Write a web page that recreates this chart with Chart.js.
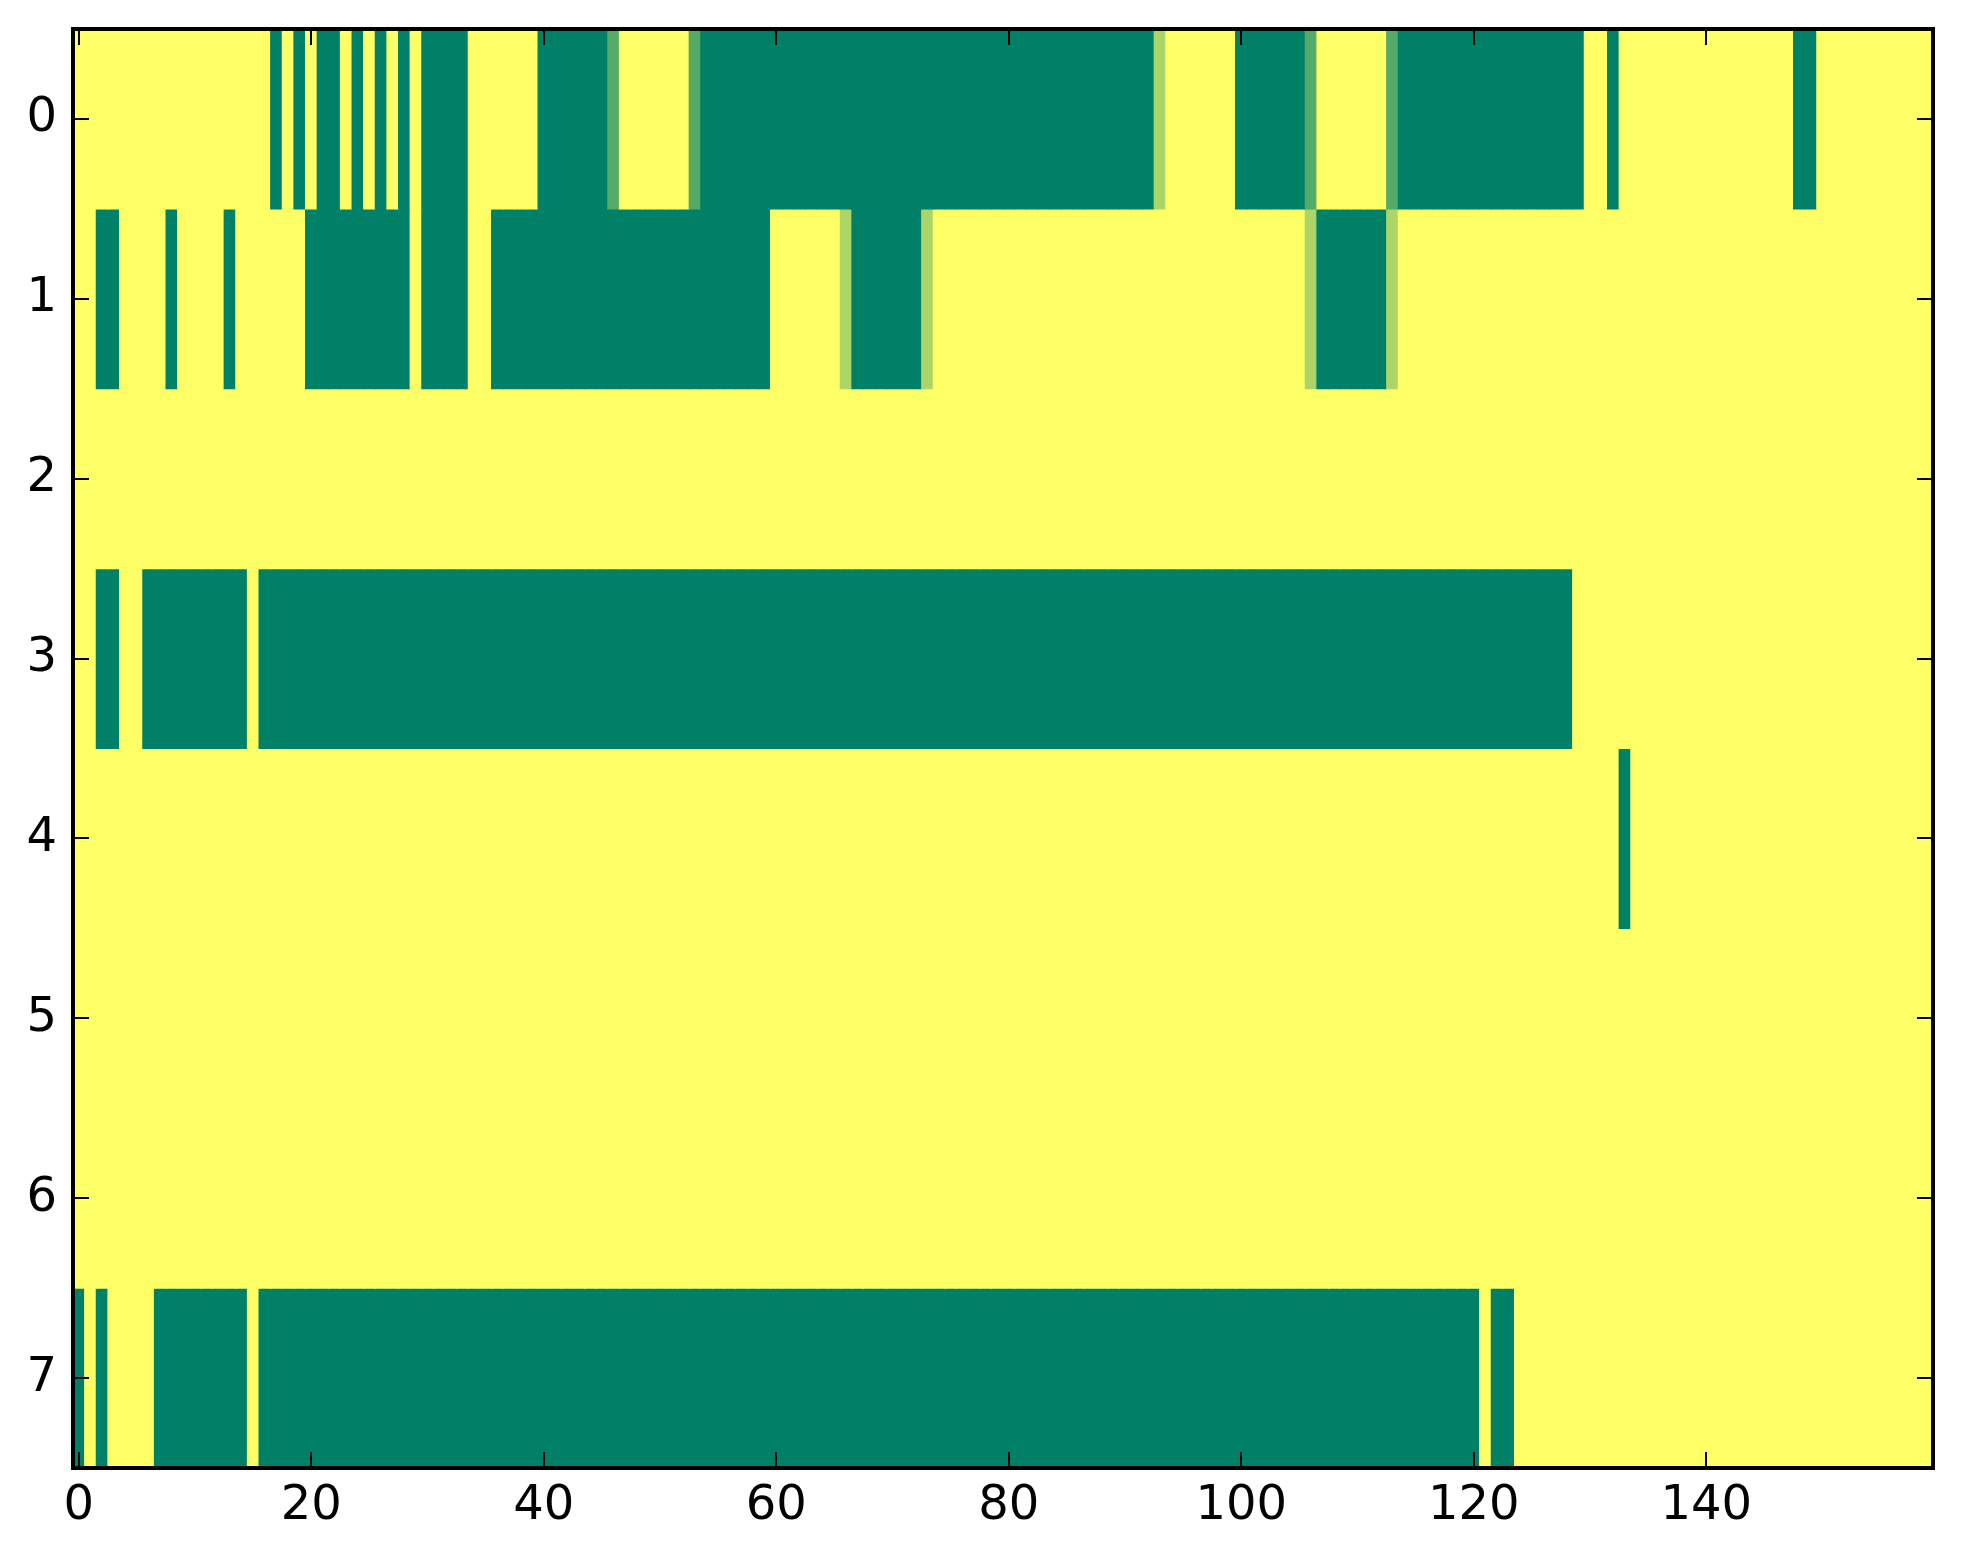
<!DOCTYPE html>
<html>
<head>
<meta charset="utf-8">
<script src="https://cdn.jsdelivr.net/npm/chart.js@4.4.1/dist/chart.umd.min.js"></script>
<style>
  html, body { margin: 0; padding: 0; background: #ffffff; }
  #wrap { width: 1963px; height: 1564px; }
</style>
</head>
<body>
<div id="wrap"><canvas id="c" width="1963" height="1564"></canvas></div>
<script>
// Row labels (y axis) and x tick labels
const rowLabels = ['0', '1', '2', '3', '4', '5', '6', '7'];
const xTicks = [0, 20, 40, 60, 80, 100, 120, 140];

// Cell values per row (160 columns each); 0 = green, 1 = yellow
const row0 = [
  1,1,1,1,1,1,1,1,1,1,
  1,1,1,1,1,1,1,0,1,0,
  1,0,0,1,0,1,0,1,0,1,
  0,0,0,0,1,1,1,1,1,1,
  0,0,0,0,0,0,0.33,1,1,1,
  1,1,1,0.33,0,0,0,0,0,0,
  0,0,0,0,0,0,0,0,0,0,
  0,0,0,0,0,0,0,0,0,0,
  0,0,0,0,0,0,0,0,0,0,
  0,0,0,0.67,1,1,1,1,1,1,
  0,0,0,0,0,0,0.33,1,1,1,
  1,1,1,0.33,0,0,0,0,0,0,
  0,0,0,0,0,0,0,0,0,0,
  1,1,0,1,1,1,1,1,1,1,
  1,1,1,1,1,1,1,1,0,0,
  1,1,1,1,1,1,1,1,1,1
];
const row1 = [
  1,1,0,0,1,1,1,1,0,1,
  1,1,1,0,1,1,1,1,1,1,
  0,0,0,0,0,0,0,0,0,1,
  0,0,0,0,1,1,0,0,0,0,
  0,0,0,0,0,0,0,0,0,0,
  0,0,0,0,0,0,0,0,0,0,
  1,1,1,1,1,1,0.67,0,0,0,
  0,0,0,0.67,1,1,1,1,1,1,
  1,1,1,1,1,1,1,1,1,1,
  1,1,1,1,1,1,1,1,1,1,
  1,1,1,1,1,1,0.67,0,0,0,
  0,0,0,0.67,1,1,1,1,1,1,
  1,1,1,1,1,1,1,1,1,1,
  1,1,1,1,1,1,1,1,1,1,
  1,1,1,1,1,1,1,1,1,1,
  1,1,1,1,1,1,1,1,1,1
];
const row2 = [
  1,1,1,1,1,1,1,1,1,1,
  1,1,1,1,1,1,1,1,1,1,
  1,1,1,1,1,1,1,1,1,1,
  1,1,1,1,1,1,1,1,1,1,
  1,1,1,1,1,1,1,1,1,1,
  1,1,1,1,1,1,1,1,1,1,
  1,1,1,1,1,1,1,1,1,1,
  1,1,1,1,1,1,1,1,1,1,
  1,1,1,1,1,1,1,1,1,1,
  1,1,1,1,1,1,1,1,1,1,
  1,1,1,1,1,1,1,1,1,1,
  1,1,1,1,1,1,1,1,1,1,
  1,1,1,1,1,1,1,1,1,1,
  1,1,1,1,1,1,1,1,1,1,
  1,1,1,1,1,1,1,1,1,1,
  1,1,1,1,1,1,1,1,1,1
];
const row3 = [
  1,1,0,0,1,1,0,0,0,0,
  0,0,0,0,0,1,0,0,0,0,
  0,0,0,0,0,0,0,0,0,0,
  0,0,0,0,0,0,0,0,0,0,
  0,0,0,0,0,0,0,0,0,0,
  0,0,0,0,0,0,0,0,0,0,
  0,0,0,0,0,0,0,0,0,0,
  0,0,0,0,0,0,0,0,0,0,
  0,0,0,0,0,0,0,0,0,0,
  0,0,0,0,0,0,0,0,0,0,
  0,0,0,0,0,0,0,0,0,0,
  0,0,0,0,0,0,0,0,0,0,
  0,0,0,0,0,0,0,0,0,1,
  1,1,1,1,1,1,1,1,1,1,
  1,1,1,1,1,1,1,1,1,1,
  1,1,1,1,1,1,1,1,1,1
];
const row4 = [
  1,1,1,1,1,1,1,1,1,1,
  1,1,1,1,1,1,1,1,1,1,
  1,1,1,1,1,1,1,1,1,1,
  1,1,1,1,1,1,1,1,1,1,
  1,1,1,1,1,1,1,1,1,1,
  1,1,1,1,1,1,1,1,1,1,
  1,1,1,1,1,1,1,1,1,1,
  1,1,1,1,1,1,1,1,1,1,
  1,1,1,1,1,1,1,1,1,1,
  1,1,1,1,1,1,1,1,1,1,
  1,1,1,1,1,1,1,1,1,1,
  1,1,1,1,1,1,1,1,1,1,
  1,1,1,1,1,1,1,1,1,1,
  1,1,1,0,1,1,1,1,1,1,
  1,1,1,1,1,1,1,1,1,1,
  1,1,1,1,1,1,1,1,1,1
];
const row5 = [
  1,1,1,1,1,1,1,1,1,1,
  1,1,1,1,1,1,1,1,1,1,
  1,1,1,1,1,1,1,1,1,1,
  1,1,1,1,1,1,1,1,1,1,
  1,1,1,1,1,1,1,1,1,1,
  1,1,1,1,1,1,1,1,1,1,
  1,1,1,1,1,1,1,1,1,1,
  1,1,1,1,1,1,1,1,1,1,
  1,1,1,1,1,1,1,1,1,1,
  1,1,1,1,1,1,1,1,1,1,
  1,1,1,1,1,1,1,1,1,1,
  1,1,1,1,1,1,1,1,1,1,
  1,1,1,1,1,1,1,1,1,1,
  1,1,1,1,1,1,1,1,1,1,
  1,1,1,1,1,1,1,1,1,1,
  1,1,1,1,1,1,1,1,1,1
];
const row6 = [
  1,1,1,1,1,1,1,1,1,1,
  1,1,1,1,1,1,1,1,1,1,
  1,1,1,1,1,1,1,1,1,1,
  1,1,1,1,1,1,1,1,1,1,
  1,1,1,1,1,1,1,1,1,1,
  1,1,1,1,1,1,1,1,1,1,
  1,1,1,1,1,1,1,1,1,1,
  1,1,1,1,1,1,1,1,1,1,
  1,1,1,1,1,1,1,1,1,1,
  1,1,1,1,1,1,1,1,1,1,
  1,1,1,1,1,1,1,1,1,1,
  1,1,1,1,1,1,1,1,1,1,
  1,1,1,1,1,1,1,1,1,1,
  1,1,1,1,1,1,1,1,1,1,
  1,1,1,1,1,1,1,1,1,1,
  1,1,1,1,1,1,1,1,1,1
];
const row7 = [
  0,1,0,1,1,1,1,0,0,0,
  0,0,0,0,0,1,0,0,0,0,
  0,0,0,0,0,0,0,0,0,0,
  0,0,0,0,0,0,0,0,0,0,
  0,0,0,0,0,0,0,0,0,0,
  0,0,0,0,0,0,0,0,0,0,
  0,0,0,0,0,0,0,0,0,0,
  0,0,0,0,0,0,0,0,0,0,
  0,0,0,0,0,0,0,0,0,0,
  0,0,0,0,0,0,0,0,0,0,
  0,0,0,0,0,0,0,0,0,0,
  0,0,0,0,0,0,0,0,0,0,
  0,1,0,0,1,1,1,1,1,1,
  1,1,1,1,1,1,1,1,1,1,
  1,1,1,1,1,1,1,1,1,1,
  1,1,1,1,1,1,1,1,1,1
];
const rows = [row0, row1, row2, row3, row4, row5, row6, row7];

// matplotlib "summer" colormap
function summer(v) {
  const r = Math.round(255 * v);
  const g = Math.round(255 * (0.5 + 0.5 * v));
  const b = Math.round(255 * 0.4);
  return 'rgb(' + r + ',' + g + ',' + b + ')';
}

const datasets = rows.map((vals, r) => ({
  label: 'row ' + rowLabels[r],
  data: vals.map((v, k) => ({ x: [k - 0.5, k + 0.5], y: rowLabels[r], v: v })),
  backgroundColor: vals.map(summer),
  borderWidth: 0,
  borderSkipped: false,
  inflateAmount: 0.5,
  grouped: false,
  barPercentage: 1.0,
  categoryPercentage: 1.0
}));

const FONT = { family: 'DejaVu Sans', size: 48 };

const framePlugin = {
  id: 'framePlugin',
  afterDraw(chart) {
    const ctx = chart.ctx;
    const a = chart.chartArea;
    const xs = chart.scales.x, ys = chart.scales.y;
    const tl = 16;
    ctx.save();
    ctx.strokeStyle = '#000';
    ctx.lineWidth = 2;
    ctx.beginPath();
    xTicks.forEach(t => {
      const px = Math.round(xs.getPixelForValue(t));
      ctx.moveTo(px, a.bottom); ctx.lineTo(px, a.bottom - tl);
      ctx.moveTo(px, a.top); ctx.lineTo(px, a.top + tl);
    });
    rowLabels.forEach((lab, i) => {
      const py = Math.round(ys.getPixelForValue(i));
      ctx.moveTo(a.left, py); ctx.lineTo(a.left + tl, py);
      ctx.moveTo(a.right, py); ctx.lineTo(a.right - tl, py);
    });
    ctx.stroke();
    ctx.lineWidth = 4;
    ctx.strokeRect(a.left, a.top, a.right - a.left, a.bottom - a.top);
    ctx.restore();
  }
};

new Chart(document.getElementById('c'), {
  type: 'bar',
  data: { labels: rowLabels, datasets: datasets },
  options: {
    indexAxis: 'y',
    responsive: false,
    devicePixelRatio: 1,
    animation: false,
    layout: { padding: { top: 29, right: 30, left: 0, bottom: 0 } },
    plugins: { legend: { display: false }, tooltip: { enabled: false } },
    scales: {
      x: {
        type: 'linear',
        min: -0.5,
        max: 159.5,
        grid: { display: false, drawTicks: false },
        border: { display: false },
        afterBuildTicks: (scale) => { scale.ticks = xTicks.map(v => ({ value: v })); },
        afterFit: (scale) => { scale.height = 96; scale.paddingLeft = 0; scale.paddingRight = 0; },
        ticks: { font: FONT, color: '#000', padding: 10, maxRotation: 0, autoSkip: false,
                 callback: (v) => String(v) }
      },
      y: {
        type: 'category',
        labels: rowLabels,
        offset: true,
        grid: { display: false, drawTicks: false },
        border: { display: false },
        afterFit: (scale) => { scale.width = 73; scale.paddingTop = 0; scale.paddingBottom = 0; },
        ticks: { font: FONT, color: '#000', padding: 16 }
      }
    }
  },
  plugins: [framePlugin]
});
</script>
</body>
</html>
